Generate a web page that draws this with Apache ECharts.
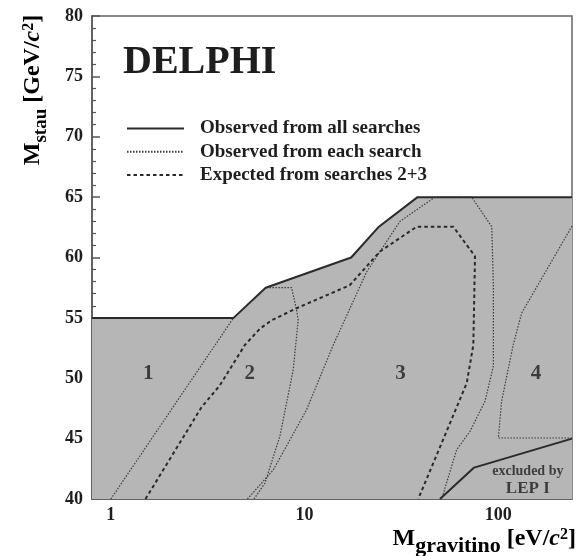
<!DOCTYPE html>
<html>
<head>
<meta charset="utf-8">
<script src="https://cdn.jsdelivr.net/npm/echarts@6/dist/echarts.min.js"></script>
<style>
  html, body { margin: 0; padding: 0; background: #fff; }
  #chart { width: 581px; height: 556px; }
</style>
</head>
<body>
<div id="chart"></div>
<script>
// Upper edge of the excluded region (observed, all searches combined)
const obsAllX = [0.8, 4.3, 6.3, 17.4, 24, 38.3, 240];
const obsAllY = [55, 55, 57.5, 60, 62.5, 65, 65];
// LEP I exclusion boundary
const lepX = [50, 75, 240];
const lepY = [40, 42.6, 45.0];
// Observed limits of the individual searches
const search1X = [1, 4.3];
const search1Y = [40, 55];
const search2X = [5.48, 6.24, 7.46, 8.74, 9.27, 9.1, 8.57, 6.3];
const search2Y = [40, 41.3, 45.2, 50.7, 54.8, 55.65, 57.5, 57.5];
const search3X = [5.07, 6.89, 10.25, 14.06, 20.9, 31.1, 47.1, 72.9, 92.5, 94.3, 94.3, 85.4, 71.4, 61, 51];
const search3Y = [40, 42.4, 47.4, 52.75, 58.8, 63, 65, 65, 62.55, 57.7, 51, 48.1, 45.6, 44.1, 40];
const search4X = [240, 132, 119.5, 104, 100, 240];
const search4Y = [62.6, 55.4, 52.8, 48.1, 45.05, 45.05];
// Expected limit from searches 2+3
const expX = [1.51, 2.94, 3.65, 4.92, 5.88, 6.76, 9.1, 17.1, 24.5, 37.9, 58.6, 75.8, 74.3, 68.7, 38.6];
const expY = [40, 47.6, 49.4, 52.75, 54.1, 54.8, 55.8, 57.7, 60.5, 62.55, 62.55, 60.1, 52.75, 49.6, 40];
// Search-region labels
const regionX = [1.56, 5.22, 31.3, 156.6];
const regionY = [50.4, 50.4, 50.4, 50.4];
const regionText = ['1', '2', '3', '4'];
// LEP I note
const lepNoteX = [142, 142];
const lepNoteY = [42.3, 40.9];
const lepNoteText = ['excluded by', 'LEP I'];
// Axis ticks
const xMajorTicks = [1, 10, 100];
const xMinorTicks = [0.9, 2, 3, 4, 5, 6, 7, 8, 9, 20, 30, 40, 50, 60, 70, 80, 90, 200];

const zip = (xs, ys) => xs.map((x, i) => [x, ys[i]]);
const SERIF = '"Liberation Serif", "DejaVu Serif", serif';
const INK = '#1e1e1e';

function richName(subSize) {
  return {
    m: { fontFamily: SERIF, fontWeight: 'bold', fontSize: 24, color: INK, verticalAlign: 'bottom', padding: [0, 0, 6, 0] },
    s: { fontFamily: SERIF, fontWeight: 'bold', fontSize: subSize, color: INK, verticalAlign: 'bottom' },
    c: { fontFamily: SERIF, fontWeight: 'bold', fontStyle: 'italic', fontSize: 24, color: INK, verticalAlign: 'bottom', padding: [0, 0, 6, 0] },
    p: { fontFamily: SERIF, fontWeight: 'bold', fontSize: 16, color: INK, verticalAlign: 'top' }
  };
}

const dotted = { color: '#3c3c3c', width: 1.2, type: [1.5, 1.5] };
const dashed = { color: '#2a2a2a', width: 2, type: [3.5, 3] };
const solid = { color: '#2a2a2a', width: 2 };

const chart = echarts.init(document.getElementById('chart'), null, { renderer: 'canvas' });
chart.setOption({
  animation: false,
  backgroundColor: '#fff',
  grid: { left: 92, right: 9, top: 16, bottom: 57, show: true, borderColor: '#666', borderWidth: 1.5, backgroundColor: 'transparent' },
  legend: {
    orient: 'vertical', left: 126, top: 119, padding: 0,
    itemWidth: 57, itemHeight: 12, itemGap: 4.3,
    itemStyle: { opacity: 0 },
    data: ['Observed from all searches', 'Observed from each search', 'Expected from searches 2+3'],
    textStyle: { fontFamily: SERIF, fontWeight: 'bold', fontSize: 19, color: INK, padding: [0, 0, 0, 11] }
  },
  xAxis: [{
    type: 'log', logBase: 10, min: 0.8, max: 240,
    axisLine: { show: true, lineStyle: { color: '#555', width: 1.5 } },
    axisTick: { show: true, inside: true, length: 10, customValues: xMajorTicks, lineStyle: { color: '#555', width: 1.5 } },
    axisLabel: { customValues: xMajorTicks, formatter: v => String(v), margin: 7, fontFamily: SERIF, fontWeight: 'bold', fontSize: 18, color: INK },
    splitLine: { show: false }
  }, {
    type: 'log', logBase: 10, min: 0.8, max: 240, position: 'bottom',
    axisLine: { show: false },
    axisTick: { show: true, inside: true, length: 5, customValues: xMinorTicks, lineStyle: { color: '#555', width: 1.2 } },
    axisLabel: { show: false },
    splitLine: { show: false }
  }],
  yAxis: {
    type: 'value', min: 40, max: 80, interval: 5,
    axisLine: { show: true, lineStyle: { color: '#555', width: 1.5 } },
    axisTick: { show: true, inside: true, length: 8, lineStyle: { color: '#555', width: 1.5 } },
    minorTick: { show: true, splitNumber: 5, length: 4, lineStyle: { color: '#555', width: 1.2 } },
    axisLabel: { margin: 9, fontFamily: SERIF, fontWeight: 'bold', fontSize: 18, color: INK },
    splitLine: { show: false }
  },
  graphic: [
    { type: 'text', left: 123, top: 43, style: { text: 'DELPHI', fontFamily: SERIF, fontWeight: 'bold', fontSize: 40, fill: INK } },
    { type: 'text', x: 51, y: 90, rotation: Math.PI / 2,
      style: { text: '{m|M}{s|stau}{m| [GeV/}{c|c}{p|2}{m|]}', rich: richName(19), align: 'center', verticalAlign: 'bottom' } },
    { type: 'text', x: 576, y: 557,
      style: { text: '{m|M}{s|gravitino}{m| [eV/}{c|c}{p|2}{m|]}', rich: richName(22), align: 'right', verticalAlign: 'bottom' } }
  ],
  series: [
    { name: 'excluded', type: 'line', data: zip(obsAllX, obsAllY), symbol: 'none', z: 1,
      lineStyle: { width: 0 }, areaStyle: { color: '#b6b6b6', opacity: 1 } },
    { name: 'Observed from all searches', type: 'line', data: zip(obsAllX, obsAllY), symbol: 'none', z: 5, lineStyle: solid, itemStyle: { color: '#2a2a2a' } },
    { name: 'Observed from all searches', type: 'line', data: zip(lepX, lepY), symbol: 'none', z: 5, lineStyle: solid, itemStyle: { color: '#2a2a2a' } },
    { name: 'Observed from each search', type: 'line', data: zip(search1X, search1Y), symbol: 'none', z: 3, lineStyle: dotted, itemStyle: { color: '#3c3c3c' } },
    { name: 'Observed from each search', type: 'line', data: zip(search2X, search2Y), symbol: 'none', z: 3, lineStyle: dotted, itemStyle: { color: '#3c3c3c' } },
    { name: 'Observed from each search', type: 'line', data: zip(search3X, search3Y), symbol: 'none', z: 3, lineStyle: dotted, itemStyle: { color: '#3c3c3c' } },
    { name: 'Observed from each search', type: 'line', data: zip(search4X, search4Y), symbol: 'none', z: 3, lineStyle: dotted, itemStyle: { color: '#3c3c3c' } },
    { name: 'Expected from searches 2+3', type: 'line', data: zip(expX, expY), symbol: 'none', z: 4, lineStyle: dashed, itemStyle: { color: '#2a2a2a' } },
    { name: 'regions', type: 'scatter', symbolSize: 0, z: 6,
      data: regionX.map((x, i) => ({ value: [x, regionY[i]], name: regionText[i] })),
      label: { show: true, position: 'inside', formatter: p => p.name, fontFamily: SERIF, fontWeight: 'bold', fontSize: 21, color: INK } },
    { name: 'lep', type: 'scatter', symbolSize: 0, z: 6,
      data: lepNoteX.map((x, i) => ({ value: [x, lepNoteY[i]], name: lepNoteText[i], label: { fontSize: i === 0 ? 14 : 17 } })),
      label: { show: true, position: 'inside', formatter: p => p.name, fontFamily: SERIF, fontWeight: 'bold', color: INK } }
  ]
});
</script>
</body>
</html>
